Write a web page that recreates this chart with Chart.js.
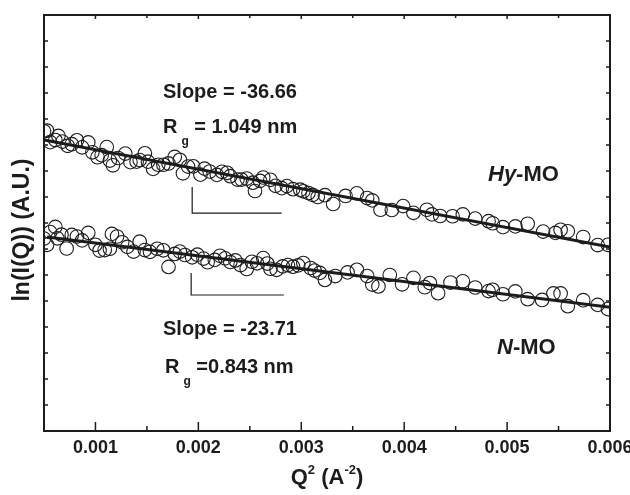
<!DOCTYPE html>
<html>
<head>
<meta charset="utf-8">
<script src="https://cdn.jsdelivr.net/npm/chart.js@4.4.1/dist/chart.umd.min.js"></script>
<style>
  html, body { margin: 0; padding: 0; background: #fff; }
  #chart { display: block; }
</style>
</head>
<body>
<canvas id="chart" width="630" height="495"></canvas>
<script>
// Q^2 (A^-2) and ln(I(Q))
var hyX = [0.00050, 0.00053, 0.00056, 0.00061, 0.00064, 0.00068, 0.00073, 0.00077, 0.00082, 0.00087,
           0.00093, 0.00097, 0.00102, 0.00106, 0.00111, 0.00114, 0.00117, 0.00122, 0.00129, 0.00134,
           0.00140, 0.00143, 0.00148, 0.00151, 0.00156, 0.00161, 0.00166, 0.00171, 0.00177, 0.00182,
           0.00185, 0.00190, 0.00195, 0.00202, 0.00206, 0.00211, 0.00218, 0.00223, 0.00228, 0.00231,
           0.00238, 0.00242, 0.00247, 0.00253, 0.00255, 0.00260, 0.00263, 0.00270, 0.00275, 0.00281,
           0.00286, 0.00292, 0.00299, 0.00302, 0.00307, 0.00311, 0.00316, 0.00323, 0.00331, 0.00343,
           0.00354, 0.00364, 0.00369, 0.00377, 0.00388, 0.00399, 0.00409, 0.00422, 0.00427, 0.00435,
           0.00447, 0.00457, 0.00469, 0.00482, 0.00486, 0.00496, 0.00508, 0.00520, 0.00535, 0.00547,
           0.00552, 0.00559, 0.00574, 0.00588, 0.00598];
var hyY = [11.53, 11.55, 11.11, 11.19, 11.35, 11.13, 10.97, 11.03, 11.18, 10.91,
           11.10, 10.72, 10.53, 10.61, 10.92, 10.40, 10.22, 10.50, 10.67, 10.34,
           10.36, 10.42, 10.68, 10.36, 10.08, 10.24, 10.24, 10.29, 10.54, 10.43,
           9.91, 10.17, 10.18, 9.86, 10.09, 9.98, 9.85, 9.97, 9.93, 9.80,
           9.67, 9.67, 9.71, 9.55, 9.23, 9.62, 9.75, 9.66, 9.43, 9.34,
           9.42, 9.30, 9.28, 9.22, 9.15, 9.08, 9.00, 9.07, 8.73, 9.04,
           9.14, 8.96, 8.87, 8.51, 8.50, 8.65, 8.39, 8.51, 8.33, 8.27,
           8.26, 8.33, 8.17, 8.07, 7.99, 7.84, 7.87, 7.97, 7.67, 7.62,
           7.74, 7.68, 7.46, 7.15, 7.16];

var nX = [0.00050, 0.00053, 0.00056, 0.00061, 0.00063, 0.00067, 0.00072, 0.00077, 0.00082, 0.00087,
          0.00093, 0.00100, 0.00104, 0.00109, 0.00114, 0.00116, 0.00121, 0.00126, 0.00131, 0.00137,
          0.00143, 0.00148, 0.00153, 0.00160, 0.00166, 0.00171, 0.00177, 0.00182, 0.00187, 0.00194,
          0.00199, 0.00205, 0.00209, 0.00216, 0.00221, 0.00226, 0.00231, 0.00236, 0.00241, 0.00247,
          0.00252, 0.00257, 0.00263, 0.00267, 0.00270, 0.00276, 0.00282, 0.00287, 0.00292, 0.00297,
          0.00302, 0.00309, 0.00313, 0.00318, 0.00323, 0.00333, 0.00345, 0.00354, 0.00364, 0.00369,
          0.00375, 0.00386, 0.00398, 0.00409, 0.00420, 0.00425, 0.00433, 0.00445, 0.00457, 0.00469,
          0.00482, 0.00486, 0.00496, 0.00508, 0.00520, 0.00534, 0.00545, 0.00552, 0.00559, 0.00574,
          0.00588, 0.00598];
var nY = [7.40, 7.16, 7.65, 7.85, 7.41, 7.55, 7.02, 7.54, 7.48, 7.33,
          7.62, 7.16, 6.94, 6.96, 7.01, 7.58, 7.48, 7.26, 7.08, 6.90,
          7.28, 6.96, 6.89, 7.01, 6.95, 6.31, 6.81, 6.90, 6.77, 6.68,
          6.78, 6.63, 6.49, 6.58, 6.74, 6.64, 6.50, 6.56, 6.38, 6.23,
          6.51, 6.45, 6.65, 6.44, 6.24, 6.20, 6.33, 6.38, 6.32, 6.37,
          6.46, 6.27, 6.17, 6.08, 5.81, 5.96, 6.10, 6.20, 5.96, 5.63,
          5.56, 6.00, 5.64, 5.89, 5.53, 5.69, 5.30, 5.71, 5.76, 5.52,
          5.38, 5.43, 5.26, 5.37, 5.07, 5.04, 5.29, 5.29, 4.80, 5.03,
          4.85, 4.69];

// linear fits
var hyFitX = [0.0005, 0.006];
var hyFitY = [11.19, 7.08];
var nFitX = [0.00053, 0.006];
var nFitY = [7.46, 4.76];

// slope guide brackets
var hyGuideX = [0.00194, 0.00194, 0.00281];
var hyGuideY = [9.38, 8.38, 8.38];
var nGuideX = [0.00193, 0.00193, 0.00283];
var nGuideY = [6.08, 5.23, 5.23];

var xTickLabels = [0.001, 0.002, 0.003, 0.004, 0.005, 0.006];
var xMinorTicks = [0.0015, 0.0025, 0.0035, 0.0045, 0.0055];
var yTicks = [1, 2, 3, 4, 5, 6, 7, 8, 9, 10, 11, 12, 13, 14, 15];

var FONT = '"Liberation Sans", Arial, Helvetica, sans-serif';
var INK = "#1c1c1c";

function pts(xs, ys) {
    return xs.map(function (x, i) { return { x: x, y: ys[i] }; });
}

// draws a run of text pieces (for sub/superscripts and italics)
function richText(ctx, x, y, parts, align) {
    var total = 0;
    parts.forEach(function (p) {
        ctx.font = (p.italic ? "italic " : "") + "bold " + p.size + "px " + FONT;
        p.w = ctx.measureText(p.t).width;
        total += p.w + (p.gap || 0);
    });
    var cx = align === "center" ? x - total / 2 : x;
    ctx.textAlign = "left";
    ctx.textBaseline = "alphabetic";
    parts.forEach(function (p) {
        ctx.font = (p.italic ? "italic " : "") + "bold " + p.size + "px " + FONT;
        ctx.fillText(p.t, cx, y + (p.dy || 0));
        cx += p.w + (p.gap || 0);
    });
}

var framePlugin = {
    id: "frame",
    afterDraw: function (chart) {
        var ctx = chart.ctx;
        var a = chart.chartArea;
        var xs = chart.scales.x, ys = chart.scales.y;
        ctx.save();
        ctx.strokeStyle = INK;
        ctx.fillStyle = INK;

        // ticks pointing inwards
        ctx.lineWidth = 1.5;
        ctx.beginPath();
        xTickLabels.forEach(function (v) {
            var px = xs.getPixelForValue(v);
            ctx.moveTo(px, a.bottom); ctx.lineTo(px, a.bottom - 9);
            ctx.moveTo(px, a.top); ctx.lineTo(px, a.top + 4);
        });
        xMinorTicks.forEach(function (v) {
            var px = xs.getPixelForValue(v);
            ctx.moveTo(px, a.bottom); ctx.lineTo(px, a.bottom - 5);
            ctx.moveTo(px, a.top); ctx.lineTo(px, a.top + 3);
        });
        yTicks.forEach(function (v) {
            var py = ys.getPixelForValue(v);
            ctx.moveTo(a.left, py); ctx.lineTo(a.left + 4, py);
            ctx.moveTo(a.right, py); ctx.lineTo(a.right - 4, py);
        });
        ctx.stroke();

        // frame
        ctx.lineWidth = 2;
        ctx.strokeRect(a.left, a.top, a.right - a.left, a.bottom - a.top);

        // x tick labels
        ctx.font = "bold 18px " + FONT;
        ctx.textAlign = "center";
        ctx.textBaseline = "alphabetic";
        xTickLabels.forEach(function (v) {
            ctx.fillText(v.toFixed(3), xs.getPixelForValue(v), a.bottom + 22);
        });

        // axis titles
        richText(ctx, (a.left + a.right) / 2, 484, [
            { t: "Q", size: 22 },
            { t: "2", size: 13, dy: -10 },
            { t: " (A", size: 22 },
            { t: "-2", size: 13, dy: -10 },
            { t: ")", size: 22 }
        ], "center");

        ctx.save();
        ctx.translate(23, 230);
        ctx.rotate(-Math.PI / 2);
        ctx.font = "bold 23px " + FONT;
        ctx.textAlign = "center";
        ctx.textBaseline = "middle";
        ctx.fillText("ln(I(Q)) (A.U.)", 0, 0);
        ctx.restore();

        // annotations
        richText(ctx, 163, 98, [{ t: "Slope = -36.66", size: 20 }]);
        richText(ctx, 163, 133, [
            { t: "R", size: 20, gap: 4 },
            { t: "g", size: 12, dy: 12 },
            { t: " = 1.049 nm", size: 20 }
        ]);
        richText(ctx, 488, 181, [
            { t: "Hy", size: 22, italic: true },
            { t: "-MO", size: 22 }
        ]);
        richText(ctx, 163, 335, [{ t: "Slope = -23.71", size: 20 }]);
        richText(ctx, 165, 373, [
            { t: "R", size: 20, gap: 4 },
            { t: "g", size: 12, dy: 12 },
            { t: " =0.843 nm", size: 20 }
        ]);
        richText(ctx, 497, 354, [
            { t: "N", size: 22, italic: true },
            { t: "-MO", size: 22 }
        ]);
        ctx.restore();
    }
};

var circleStyle = {
    showLine: false,
    pointStyle: "circle",
    pointRadius: 6.8,
    pointBorderWidth: 1.1,
    pointBorderColor: INK,
    pointBackgroundColor: "rgba(0,0,0,0)",
    clip: 0
};

function lineSet(xs, ys, width) {
    return {
        data: pts(xs, ys),
        showLine: true,
        borderColor: INK,
        borderWidth: width,
        pointRadius: 0,
        fill: false,
        clip: 0
    };
}

var ctx = document.getElementById("chart").getContext("2d");
var chart = new Chart(ctx, {
    type: "scatter",
    data: {
        datasets: [
            Object.assign({ label: "Hy-MO", data: pts(hyX, hyY) }, circleStyle),
            Object.assign({ label: "N-MO", data: pts(nX, nY) }, circleStyle),
            lineSet(hyFitX, hyFitY, 3),
            lineSet(nFitX, nFitY, 3),
            lineSet(hyGuideX, hyGuideY, 1.2),
            lineSet(nGuideX, nGuideY, 1.2)
        ]
    },
    options: {
        responsive: false,
        animation: false,
        layout: { padding: { top: 15, right: 20, left: 0, bottom: 0 } },
        plugins: {
            legend: { display: false },
            tooltip: { enabled: false }
        },
        scales: {
            x: {
                type: "linear",
                min: 0.0005,
                max: 0.006,
                ticks: { display: false },
                grid: { display: false },
                border: { display: false },
                afterFit: function (s) { s.height = 64; }
            },
            y: {
                type: "linear",
                min: 0,
                max: 16,
                ticks: { display: false },
                grid: { display: false },
                border: { display: false },
                afterFit: function (s) { s.width = 44; }
            }
        }
    },
    plugins: [framePlugin]
});
</script>
</body>
</html>
